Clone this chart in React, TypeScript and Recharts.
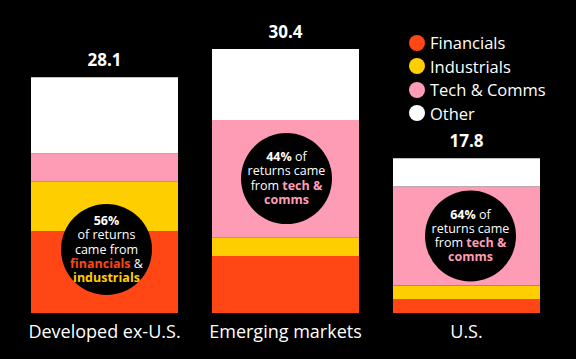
import React from "react";
import { BarChart, Bar, XAxis, YAxis, Legend, LabelList, ReferenceDot } from "recharts";

const categories = ["Developed ex-U.S.", "Emerging markets", "U.S."];
const seriesNames = ["Financials", "Industrials", "Tech & Comms", "Other"];
const financials = [9.4, 6.55, 1.6];
const industrials = [5.75, 2.15, 1.55];
const techComms = [3.2, 13.5, 11.4];
const other = [8.75, 8.15, 3.25];
const totals = [28.1, 30.4, 17.8];
// where the black call-out circle sits (value on the y scale)
const bubbleAt = [7.3, 15.45, 8.85];

type Seg = { t: string; c?: string; b?: boolean };
const bubbleLines: Seg[][][] = [
  [
    [{ t: "56%", b: true }],
    [{ t: "of returns" }],
    [{ t: "came from" }],
    [{ t: "financials", c: "#FF4614", b: true }, { t: " &" }],
    [{ t: "industrials", c: "#FFCE00", b: true }],
  ],
  [
    [{ t: "44%", b: true }, { t: " of" }],
    [{ t: "returns came" }],
    [{ t: "from " }, { t: "tech &", c: "#FF9CB5", b: true }],
    [{ t: "comms", c: "#FF9CB5", b: true }],
  ],
  [
    [{ t: "64%", b: true }, { t: " of" }],
    [{ t: "returns came" }],
    [{ t: "from " }, { t: "tech &", c: "#FF9CB5", b: true }],
    [{ t: "comms", c: "#FF9CB5", b: true }],
  ],
];

const COLORS = ["#FF4614", "#FFCE00", "#FF9CB5", "#FFFFFF"];
const FONT = "'Open Sans', sans-serif";

const data = categories.map((name, i) => ({
  name,
  financials: financials[i],
  industrials: industrials[i],
  techComms: techComms[i],
  other: other[i],
  total: totals[i],
}));

if (typeof document !== "undefined") {
  document.body.style.margin = "0";
  document.body.style.background = "#000";
}

function Bubble(props: any) {
  const { cx, cy, lines, dx } = props;
  const step = 14.3;
  const start = -((lines.length - 1) / 2) * step - 1;
  const x = cx + dx;
  return (
    <g>
      <circle cx={x} cy={cy} r={45.5} fill="#000" />
      {lines.map((segs: Seg[], k: number) => (
        <text
          key={k}
          x={x}
          y={cy + start + k * step}
          textAnchor="middle"
          dominantBaseline="central"
          fontFamily={FONT}
          fontSize={12.5}
          fill="#fff"
        >
          {segs.map((s, j) => (
            <tspan key={j} fill={s.c ?? "#fff"} fontWeight={s.b ? 700 : 400}>
              {s.t}
            </tspan>
          ))}
        </text>
      ))}
    </g>
  );
}

function LegendList() {
  return (
    <div style={{ fontFamily: FONT, color: "#fff", fontSize: 16.5 }}>
      {seriesNames.map((n, i) => (
        <div key={n} style={{ display: "flex", alignItems: "center", height: 23.5 }}>
          <span
            style={{
              display: "inline-block",
              width: 16,
              height: 16,
              borderRadius: 8,
              background: COLORS[i],
              marginRight: 5,
            }}
          />
          {n}
        </div>
      ))}
    </div>
  );
}

function Tick(props: any) {
  const { x, y, payload } = props;
  return (
    <text x={x} y={y + 24.5} textAnchor="middle" fontFamily={FONT} fontSize={18} fill="#fff">
      {payload.value}
    </text>
  );
}

const bubbleDx = [2, 1, 4];

export default function App() {
  return (
    <div style={{ width: 576, height: 359, background: "#000" }}>
      <BarChart
        width={576}
        height={359}
        data={data}
        margin={{ top: 39, right: 19, bottom: 0, left: 14 }}
        barCategoryGap={17}
      >
        <XAxis
          dataKey="name"
          axisLine={false}
          tickLine={false}
          tickSize={0}
          tickMargin={0}
          height={46}
          interval={0}
          tick={<Tick />}
        />
        <YAxis hide domain={[0, 31.5]} />
        <Legend
          verticalAlign="middle"
          align="center"
          layout="horizontal"
          content={<LegendList />}
          wrapperStyle={{ left: 409, top: 31, width: 170 }}
        />
        <Bar dataKey="financials" name={seriesNames[0]} stackId="a" fill={COLORS[0]} isAnimationActive={false} />
        <Bar dataKey="industrials" name={seriesNames[1]} stackId="a" fill={COLORS[1]} isAnimationActive={false} />
        <Bar dataKey="techComms" name={seriesNames[2]} stackId="a" fill={COLORS[2]} isAnimationActive={false} />
        <Bar dataKey="other" name={seriesNames[3]} stackId="a" fill={COLORS[3]} isAnimationActive={false}>
          <LabelList
            dataKey="total"
            position="top"
            offset={11}
            fill="#fff"
            fontFamily={FONT}
            fontSize={17}
            fontWeight={700}
            formatter={(v: any) => Number(v).toFixed(1)}
          />
        </Bar>
        {categories.map((c, i) => (
          <ReferenceDot
            key={c}
            x={c}
            y={bubbleAt[i]}
            r={46}
            ifOverflow="visible"
            shape={(p: any) => <Bubble {...p} lines={bubbleLines[i]} dx={bubbleDx[i]} />}
          />
        ))}
      </BarChart>
    </div>
  );
}
